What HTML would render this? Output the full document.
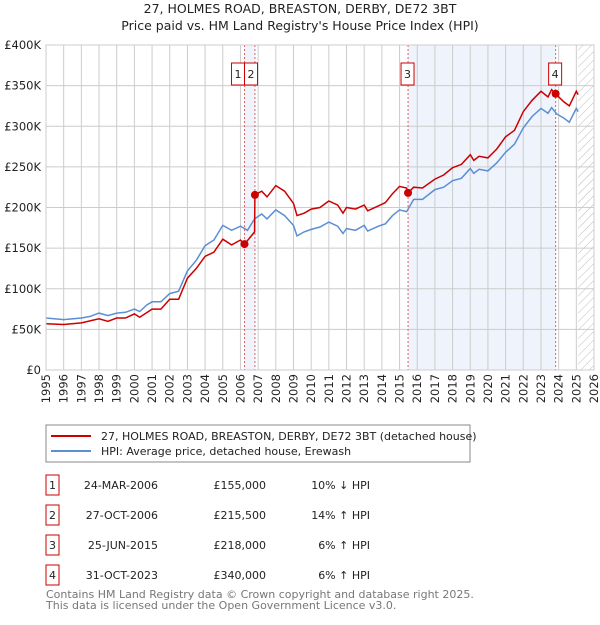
<!DOCTYPE html>
<html><head><meta charset="utf-8"><style>
body{margin:0;background:#fff;font-family:"Liberation Sans","DejaVu Sans",sans-serif;}
svg text{font-family:"DejaVu Sans","Liberation Sans",sans-serif;}
</style></head><body>
<svg id="c" width="600" height="620" xmlns="http://www.w3.org/2000/svg">
<defs><pattern id="hatch" width="6" height="6" patternUnits="userSpaceOnUse" patternTransform="rotate(45)"><line x1="0" y1="0" x2="0" y2="6" stroke="#bbb" stroke-width="1"/></pattern></defs>
<text x="300" y="13" text-anchor="middle" font-size="12.5" fill="#222">27, HOLMES ROAD, BREASTON, DERBY, DE72 3BT</text>
<text x="300" y="30" text-anchor="middle" font-size="12.5" fill="#222">Price paid vs. HM Land Registry's House Price Index (HPI)</text>
<g id="plot"></g>
<rect x="46" y="425" width="424" height="37" fill="#fff" stroke="#888"/>
<line x1="51" y1="436" x2="91" y2="436" stroke="#cc0000" stroke-width="2"/>
<text x="101" y="440" font-size="11" fill="#222">27, HOLMES ROAD, BREASTON, DERBY, DE72 3BT (detached house)</text>
<line x1="51" y1="451" x2="91" y2="451" stroke="#5b8fd4" stroke-width="2"/>
<text x="101" y="455" font-size="11" fill="#222">HPI: Average price, detached house, Erewash</text>
<g id="table" font-size="11" fill="#222"></g>
<text x="46" y="598" font-size="11" fill="#777">Contains HM Land Registry data © Crown copyright and database right 2025.</text>
<text x="46" y="609" font-size="11" fill="#777">This data is licensed under the Open Government Licence v3.0.</text>
</svg>
<script>
const hpiYears=[1995,1996,1997,1997.5,1998,1998.5,1999,1999.5,2000,2000.3,2000.7,2001,2001.5,2002,2002.5,2003,2003.5,2004,2004.5,2005,2005.5,2006,2006.4,2006.8,2007.2,2007.5,2008,2008.5,2009,2009.2,2009.6,2010,2010.5,2011,2011.5,2011.8,2012,2012.5,2013,2013.2,2013.8,2014.2,2014.6,2015,2015.4,2015.8,2016.3,2017,2017.5,2018,2018.5,2019,2019.2,2019.5,2020,2020.5,2021,2021.5,2022,2022.5,2023,2023.4,2023.6,2023.9,2024.3,2024.6,2025.0,2025.1];
const hpiValues=[64,62,64,66,70,67,70,71,75,72,80,84,84,94,97,122,135,153,160,178,172,177,172,186,192,186,197,190,178,165,170,173,176,182,177,168,174,172,178,171,177,180,190,197,195,210,210,222,225,233,236,248,242,247,245,255,268,278,298,312,322,316,323,315,310,305,322,318];
const propYears=[1995,1996,1997,1998,1998.5,1999,1999.5,2000,2000.3,2001,2001.5,2002,2002.5,2003,2003.5,2004,2004.5,2005,2005.5,2006,2006.23,2006.5,2006.8,2006.82,2007.2,2007.5,2008,2008.5,2009,2009.2,2009.6,2010,2010.5,2011,2011.5,2011.8,2012,2012.5,2013,2013.2,2013.8,2014.2,2014.6,2015,2015.4,2015.48,2015.8,2016.3,2017,2017.5,2018,2018.5,2019,2019.2,2019.5,2020,2020.5,2021,2021.5,2022,2022.5,2023,2023.4,2023.6,2023.83,2024.3,2024.6,2025.0,2025.1];
const propValues=[57,56,58,63,60,64,64,69,65,75,75,87,87,113,125,140,145,161,154,160,155,162,170,215.5,220,213,227,220,205,190,193,198,200,208,203,193,200,198,203,196,202,206,217,226,224,218,225,224,235,240,249,253,265,258,263,261,272,287,295,318,332,343,336,345,340,330,325,343,339];
const saleLabels=["1","2","3","4"];
const saleYears=[2006.23,2006.82,2015.48,2023.83];
const saleValues=[155,215.5,218,340];
const saleDates=["24-MAR-2006","27-OCT-2006","25-JUN-2015","31-OCT-2023"];
const salePrices=["£155,000","£215,500","£218,000","£340,000"];
const saleHpi=["10% ↓ HPI","14% ↑ HPI","6% ↑ HPI","6% ↑ HPI"];
const yTicks=[0,50,100,150,200,250,300,350,400];
const yTickLabels=["£0","£50K","£100K","£150K","£200K","£250K","£300K","£350K","£400K"];
const xTicks=[];for(let y=1995;y<=2026;y++)xTicks.push(y);
const dataEnd=2025.1;

const X0=46,X1=594,Y0=370,Y1=45;
const xs=v=>X0+(v-1995)/(2026-1995)*(X1-X0);
const ys=v=>Y0-v/400*(Y0-Y1);
const NS="http://www.w3.org/2000/svg";
const plot=document.getElementById('plot');
function mk(tag,attrs,parent){const e=document.createElementNS(NS,tag);for(const k in attrs)e.setAttribute(k,attrs[k]);(parent||plot).appendChild(e);return e;}

let e=mk('rect',{x:X0,y:Y1,width:X1-X0,height:Y0-Y1,fill:'#fff'});


for(let i=0;i<saleYears.length;i+=2){
 e=mk('rect',{x:xs(saleYears[i]),y:Y1,width:xs(saleYears[i+1])-xs(saleYears[i]),height:Y0-Y1,fill:'#eef3fc'});
 
 
}
e=mk('rect',{x:xs(dataEnd),y:Y1,width:X1-xs(dataEnd),height:Y0-Y1,fill:'url(#hatch)'});


xTicks.forEach(t=>{
 e=mk('line',{x1:xs(t),x2:xs(t),y1:Y1,y2:Y0,stroke:'#ccc','stroke-width':1});
 
 
 const tx=xs(t)+4;
 e=mk('text',{x:tx,y:374,transform:`rotate(-90 ${tx} 374)`,'text-anchor':'end','font-size':11.5,fill:'#222'});
 e.textContent=t;
 
 
});
yTicks.forEach((t,i)=>{
 e=mk('line',{x1:X0,x2:X1,y1:ys(t),y2:ys(t),stroke:'#ccc','stroke-width':1});
 
 
 e=mk('text',{x:X0-5,y:ys(t)+4,'text-anchor':'end','font-size':11.5,fill:'#222'});
 e.textContent=yTickLabels[i];
 
 
});
saleYears.forEach(s=>{
 e=mk('line',{x1:xs(s),x2:xs(s),y1:Y1,y2:Y0,stroke:'#e06060','stroke-dasharray':'2,2','stroke-width':1});
 
 
});
const pts=(a,b)=>a.map((v,i)=>xs(v).toFixed(1)+','+ys(b[i]).toFixed(1)).join(' ');
e=mk('polyline',{points:pts(hpiYears,hpiValues),fill:'none',stroke:'#5b8fd4','stroke-width':1.5});


e=mk('polyline',{points:pts(propYears,propValues),fill:'none',stroke:'#cc0000','stroke-width':1.5});


saleYears.forEach((s,i)=>{
 e=mk('circle',{cx:xs(s),cy:ys(saleValues[i]),r:4,fill:'#cc0000'});
 
 
 const bx=i===0?xs(s)-13:(i===1?xs(saleYears[0]):xs(s)-7);
 e=mk('rect',{x:bx,y:63,width:13,height:22,fill:'#fff',stroke:'#cc0000'});
 
 
 e=mk('text',{x:bx+6.5,y:78,'text-anchor':'middle','font-size':11,fill:'#222'});
 e.textContent=saleLabels[i];
 
 
});
e=mk('rect',{x:X0,y:Y1,width:X1-X0,height:Y0-Y1,fill:'none',stroke:'#ccc'});


const tb=document.getElementById('table');
const rowY=[485,515,545,575];
saleLabels.forEach((l,i)=>{
 const y=rowY[i];
 e=mk('rect',{x:46,y:y-10,width:13,height:20,fill:'#fff',stroke:'#cc0000'},tb);
 
 
 e=mk('text',{x:52.5,y:y+4,'text-anchor':'middle'},tb);e.textContent=l;
 
 
 e=mk('text',{x:158,y:y+4,'text-anchor':'end'},tb);e.textContent=saleDates[i];
 
 
 e=mk('text',{x:266,y:y+4,'text-anchor':'end'},tb);e.textContent=salePrices[i];
 
 
 e=mk('text',{x:370,y:y+4,'text-anchor':'end'},tb);e.textContent=saleHpi[i];
 
 
});
</script>
</body></html>
